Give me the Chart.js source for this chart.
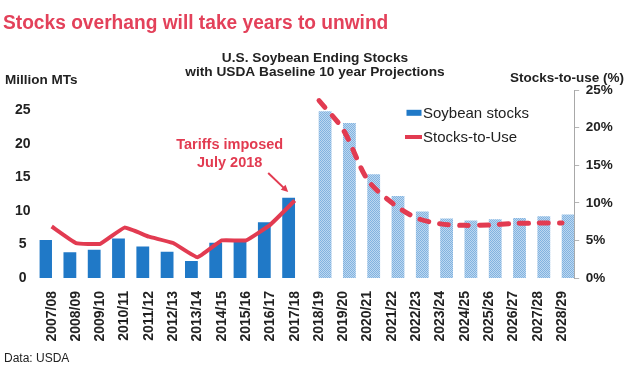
<!DOCTYPE html>
<html><head><meta charset="utf-8">
<script src="https://cdn.jsdelivr.net/npm/chart.js@4"></script>
<style>
html,body{margin:0;padding:0;background:#fff;}
#wrap{position:relative;width:630px;height:378px;overflow:hidden;font-family:'Liberation Sans',Arial,sans-serif;}
canvas{position:absolute;left:0;top:0;}
.t{position:absolute;white-space:nowrap;line-height:1;}
</style></head><body>
<div id="wrap">
<canvas id="c" width="630" height="378"></canvas>
<div class="t" id="main" style="left:3px;top:11.6px;font-size:20px;font-weight:bold;color:#e3415a;transform-origin:0 0;">Stocks overhang will take years to unwind</div>
<div class="t" style="left:5px;top:73px;font-size:13.5px;font-weight:bold;color:#222;">Million MTs</div>
<div class="t" style="left:510px;top:71px;font-size:13.5px;font-weight:bold;color:#222;">Stocks-to-use (%)</div>
<div class="t" style="left:4px;top:352px;font-size:12px;color:#222;">Data: USDA</div>
</div>
<script>
const categories = ['2007/08','2008/09','2009/10','2010/11','2011/12','2012/13','2013/14','2014/15','2015/16','2016/17','2017/18',
  '2018/19','2019/20','2020/21','2021/22','2022/23','2023/24','2024/25','2025/26','2026/27','2027/28','2028/29'];
const stocks = [5.6,3.8,4.15,5.85,4.65,3.85,2.5,5.2,5.45,8.25,11.9,
  24.8,23.05,15.4,12.15,9.85,8.8,8.5,8.7,8.9,9.15,9.4];
const stocksToUse = [6.85,4.65,4.55,6.7,5.5,4.65,2.75,5.0,5.0,7.1,10.3,
  23.6,19.7,13.05,10.0,8.0,7.2,7.0,7.05,7.25,7.3,7.3];
const firstProjection = 11; // '2018/19'
const leftTicks = [0,5,10,15,20,25];
const rightTicks = [0,5,10,15,20,25];
const seriesNames = ['Soybean stocks','Stocks-to-Use'];
const annotationLines = ['Tariffs imposed','July 2018'];
const annotationIndex = 10; // '2017/18'

const BLUE = '#2079c7', RED = '#e23b51', TXT = '#222';

function hatch(){
  const p = document.createElement('canvas'); p.width = 2; p.height = 2;
  const g = p.getContext('2d');
  g.fillStyle = '#bcd7f0'; g.fillRect(0,0,2,2);
  g.fillStyle = '#82b3e0'; g.fillRect(0,0,1,1); g.fillRect(1,1,1,1);
  return g.createPattern(p,'repeat');
}

const hist = (arr) => arr.map((v,i) => i < firstProjection ? v : null);
const proj = (arr) => arr.map((v,i) => i >= firstProjection ? v : null);

Chart.defaults.font.family = "'Liberation Sans', Arial, sans-serif";
Chart.defaults.color = TXT;

const legendPlugin = {
  id: 'customLegend',
  afterDraw(chart){
    const ctx = chart.ctx;
    ctx.save();
    ctx.font = "15px 'Liberation Sans', Arial, sans-serif";
    ctx.fillStyle = TXT; ctx.textBaseline = 'middle'; ctx.textAlign = 'left';
    ctx.fillStyle = BLUE; ctx.fillRect(406.5,109.8,15,6);
    ctx.fillStyle = TXT; ctx.fillText(seriesNames[0], 423, 113.5);
    ctx.strokeStyle = RED; ctx.lineWidth = 4; ctx.lineCap = 'butt';
    ctx.beginPath(); ctx.moveTo(405,137); ctx.lineTo(422,137); ctx.stroke();
    ctx.fillText(seriesNames[1], 423, 138);
    ctx.restore();
  }
};

const annotationPlugin = {
  id: 'tariffNote',
  afterDatasetsDraw(chart){
    const ctx = chart.ctx;
    const px = chart.scales.x.getPixelForValue(annotationIndex);
    const py = chart.scales.yR.getPixelForValue(stocksToUse[annotationIndex]);
    ctx.save();
    ctx.fillStyle = RED; ctx.strokeStyle = RED;
    ctx.font = "bold 14.5px 'Liberation Sans', Arial, sans-serif";
    ctx.textAlign = 'center'; ctx.textBaseline = 'middle';
    ctx.fillText(annotationLines[0], px - 65, py - 55.5);
    ctx.fillText(annotationLines[1], px - 65, py - 37.5);
    const x1 = px - 26.5, y1 = py - 27.5, x2 = px - 6.5, y2 = py - 8.5;
    const a = Math.atan2(y2-y1, x2-x1);
    ctx.lineWidth = 2;
    ctx.beginPath(); ctx.moveTo(x1,y1); ctx.lineTo(x2 - 5*Math.cos(a), y2 - 5*Math.sin(a)); ctx.stroke();
    ctx.beginPath();
    ctx.moveTo(x2,y2);
    ctx.lineTo(x2 - 7*Math.cos(a) + 3.5*Math.sin(a), y2 - 7*Math.sin(a) - 3.5*Math.cos(a));
    ctx.lineTo(x2 - 7*Math.cos(a) - 3.5*Math.sin(a), y2 - 7*Math.sin(a) + 3.5*Math.cos(a));
    ctx.closePath(); ctx.fill();
    ctx.restore();
  }
};

const ctx = document.getElementById('c').getContext('2d');
new Chart(ctx, {
  data: {
    labels: categories,
    datasets: [
      { type:'line', label: seriesNames[1], data: hist(stocksToUse), yAxisID:'yR', order:0,
        borderColor: RED, borderWidth:4, pointRadius:0, tension:0.1, borderJoinStyle:'round', spanGaps:false },
      { type:'line', label: seriesNames[1] + ' (projection)', data: proj(stocksToUse), yAxisID:'yR', order:0,
        borderColor: RED, borderWidth:5, pointRadius:0, tension:0.3, borderDash:[9,11], borderCapStyle:'round', spanGaps:false },
      { type:'bar', label: seriesNames[0], data: hist(stocks), yAxisID:'y', order:1,
        backgroundColor: BLUE, categoryPercentage:1.0, barPercentage:1.0 },
      { type:'bar', label: seriesNames[0] + ' (projection)', data: proj(stocks), yAxisID:'y', order:2,
        backgroundColor: hatch(), categoryPercentage:1.0, barPercentage:1.0 }
    ]
  },
  options: {
    responsive:false, animation:false,
    layout:{ padding:0 },
    plugins:{
      legend:{ display:false },
      tooltip:{ enabled:false },
      title:{ display:true, text:['U.S. Soybean Ending Stocks','with USDA Baseline 10 year Projections'],
        color: TXT, font:{ size:13.7, weight:'bold', lineHeight:'14px' }, padding:{ top:51, bottom:11 } }
    },
    scales:{
      x:{ offset:true, grid:{ display:false, drawTicks:false }, border:{ display:false },
        ticks:{ maxRotation:90, minRotation:90, autoSkip:false, padding:13, color:TXT, font:{ size:14, weight:'bold' } },
        afterFit(s){ s.height = 100; } },
      y:{ position:'left', min:0, max:28,
        afterBuildTicks(s){ s.ticks = leftTicks.map(v => ({ value:v })); },
        grid:{ display:false, drawTicks:false }, border:{ display:false },
        ticks:{ padding:9, crossAlign:'center', color:TXT, font:{ size:14, weight:'bold' } },
        afterFit(s){ s.width = 39.5; } },
      yR:{ position:'right', min:0, max:25,
        afterBuildTicks(s){ s.ticks = rightTicks.map(v => ({ value:v })); },
        grid:{ drawOnChartArea:false, drawTicks:true, tickLength:5, color:'#b5b5b5', lineWidth:1 },
        border:{ display:true, color:'#a8a8a8', width:1 },
        ticks:{ padding:6.5, color:TXT, font:{ size:13.5, weight:'bold' }, callback: v => v + '%' },
        afterFit(s){ s.width = 55.8; } }
    }
  },
  plugins:[legendPlugin, annotationPlugin]
});

const m = document.getElementById('main');
m.style.transform = 'scaleX(' + (385 / m.offsetWidth) + ')';
</script>
</body></html>
